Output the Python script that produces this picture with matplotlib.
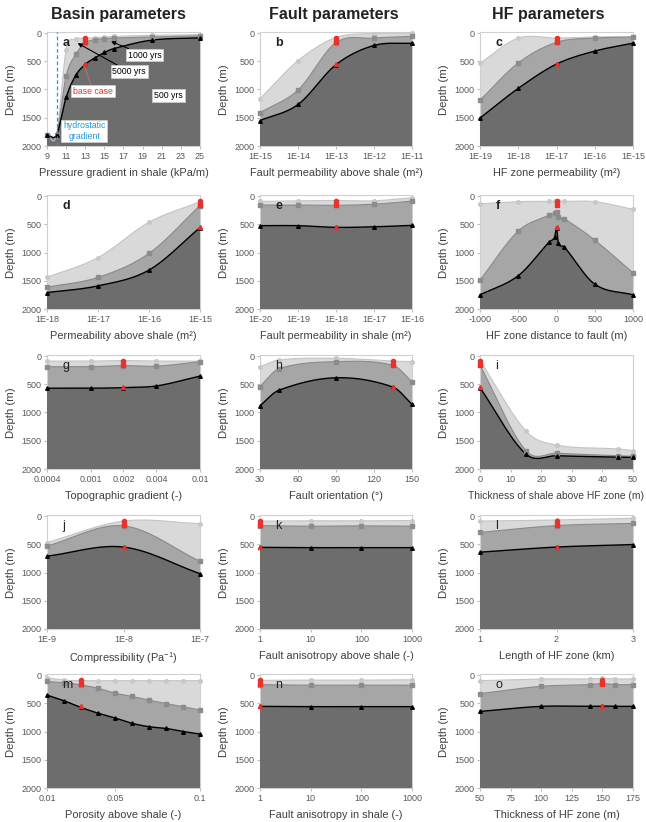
import numpy as np
import matplotlib
matplotlib.use('Agg')
import matplotlib.pyplot as plt

plt.rcParams['font.family'] = ['Liberation Sans', 'DejaVu Sans']
plt.rcParams['mathtext.default'] = 'regular'
plt.rcParams['axes.unicode_minus'] = False

# depth (m) reached after 500, 1000 and 5000 years, per sensitivity panel
a_x = [9, 10, 11, 12, 13, 14, 15, 16, 20, 25]
a_500 = [1800, 1800, 1140, 750, 555, 440, 345, 275, 125, 85]
a_1000 = [1800, 1800, 760, 380, 170, 120, 100, 90, 70, 50]
a_5000 = [1800, 1800, 300, 110, 95, 80, 70, 60, 40, 30]

b_x = [1e-15, 1e-14, 1e-13, 1e-12, 1e-11]
b_500 = [1550, 1265, 560, 220, 180]
b_1000 = [1410, 1010, 170, 90, 60]
b_5000 = [1165, 490, 80, 10, 5]

c_x = [1e-19, 1e-18, 1e-17, 1e-16, 1e-15]
c_500 = [1505, 980, 550, 320, 180]
c_1000 = [1190, 530, 165, 90, 70]
c_5000 = [535, 90, 90, 70, 70]

d_x = [1e-18, 1e-17, 1e-16, 1e-15]
d_500 = [1710, 1590, 1310, 560]
d_1000 = [1615, 1440, 1015, 170]
d_5000 = [1440, 1090, 465, 100]

e_x = [1e-20, 1e-19, 1e-18, 1e-17, 1e-16]
e_500 = [525, 525, 555, 545, 520]
e_1000 = [160, 160, 165, 145, 90]
e_5000 = [95, 85, 80, 85, 30]

f_x = [-1000, -500, -100, -25, 0, 25, 100, 500, 1000]
f_500 = [1750, 1410, 820, 730, 560, 840, 900, 1560, 1750]
f_1000 = [1490, 620, 340, 300, 280, 370, 400, 780, 1360]
f_5000 = [140, 100, 95, 95, 95, 95, 95, 100, 235]

g_x = [0.0004, 0.001, 0.002, 0.004, 0.01]
g_500 = [570, 570, 560, 530, 355]
g_1000 = [190, 190, 170, 180, 100]
g_5000 = [90, 90, 80, 90, 90]

h_x = [30, 45, 90, 135, 150]
h_500 = [880, 605, 385, 550, 855]
h_1000 = [540, 225, 100, 165, 455]
h_5000 = [190, 70, 40, 90, 100]

i_x = [0, 15, 25, 45, 50]
i_500 = [560, 1735, 1765, 1790, 1795]
i_1000 = [165, 1675, 1720, 1765, 1775]
i_5000 = [80, 1325, 1575, 1645, 1675]

j_x = [1e-9, 1e-8, 1e-7]
j_500 = [710, 550, 1020]
j_1000 = [530, 175, 800]
j_5000 = [470, 90, 135]

k_x = [1, 10, 100, 1000]
k_500 = [555, 560, 560, 560]
k_1000 = [170, 180, 175, 180]
k_5000 = [90, 85, 85, 80]

l_x = [1, 2, 3]
l_500 = [640, 550, 505]
l_1000 = [290, 170, 130]
l_5000 = [90, 70, 40]

m_x = [0.01, 0.02, 0.03, 0.04, 0.05, 0.06, 0.07, 0.08, 0.09, 0.1]
m_500 = [355, 455, 575, 675, 760, 855, 915, 945, 1000, 1045]
m_1000 = [115, 135, 175, 235, 320, 380, 445, 505, 560, 620]
m_5000 = [50, 90, 100, 100, 100, 100, 100, 100, 100, 100]

n_x = [1, 10, 100, 1000]
n_500 = [555, 560, 560, 560]
n_1000 = [170, 180, 180, 180]
n_5000 = [95, 90, 90, 85]

o_x = [50, 100, 140, 150, 160, 175]
o_500 = [645, 555, 555, 550, 555, 555]
o_1000 = [330, 200, 170, 150, 170, 170]
o_5000 = [100, 70, 70, 60, 70, 70]

# base case depths (5000, 1000, 500 yrs)
base_depth = [90, 165, 555]

titles = ['Basin parameters', 'Fault parameters', 'HF parameters']

DARK = '#6d6d6d'
MID = '#a6a6a6'
LIGHT = '#d9d9d9'
RED = '#e8322b'
BLUE = '#1f9bd7'


def smooth(x, y, n=40):
    # excel-like smoothed line (cubic hermite with centred slopes)
    x = np.asarray(x, float)
    y = np.asarray(y, float)
    k = len(x)
    s = np.empty(k)
    s[0] = (y[1] - y[0]) / (x[1] - x[0])
    s[-1] = (y[-1] - y[-2]) / (x[-1] - x[-2])
    for q in range(1, k - 1):
        s[q] = (y[q + 1] - y[q - 1]) / (x[q + 1] - x[q - 1])
    t = np.linspace(0, 1, n, endpoint=False)
    h00 = 2 * t**3 - 3 * t**2 + 1
    h10 = t**3 - 2 * t**2 + t
    h01 = -2 * t**3 + 3 * t**2
    h11 = t**3 - t**2
    xs, ys = [], []
    for q in range(k - 1):
        hh = x[q + 1] - x[q]
        xs.append(x[q] + t * hh)
        ys.append(h00 * y[q] + h10 * hh * s[q] + h01 * y[q + 1] + h11 * hh * s[q + 1])
    xs.append([x[-1]])
    ys.append([y[-1]])
    return np.concatenate(xs), np.concatenate(ys)


panels = [
    dict(x=a_x, d=(a_5000, a_1000, a_500), log=False, base=13, letter='a', bold=True,
         ticks=[9, 11, 13, 15, 17, 19, 21, 23, 25], tl=None,
         xlabel='Pressure gradient in shale (kPa/m)'),
    dict(x=b_x, d=(b_5000, b_1000, b_500), log=True, base=1e-13, letter='b', bold=True,
         ticks=b_x, tl=['1E-15', '1E-14', '1E-13', '1E-12', '1E-11'],
         xlabel='Fault permeability above shale (m²)'),
    dict(x=c_x, d=(c_5000, c_1000, c_500), log=True, base=1e-17, letter='c', bold=True,
         ticks=c_x, tl=['1E-19', '1E-18', '1E-17', '1E-16', '1E-15'],
         xlabel='HF zone permeability (m²)'),
    dict(x=d_x, d=(d_5000, d_1000, d_500), log=True, base=1e-15, letter='d', bold=True,
         ticks=d_x, tl=['1E-18', '1E-17', '1E-16', '1E-15'],
         xlabel='Permeability above shale (m²)'),
    dict(x=e_x, d=(e_5000, e_1000, e_500), log=True, base=1e-18, letter='e', bold=True,
         ticks=e_x, tl=['1E-20', '1E-19', '1E-18', '1E-17', '1E-16'],
         xlabel='Fault permeability in shale (m²)'),
    dict(x=f_x, d=(f_5000, f_1000, f_500), log=False, base=0, letter='f', bold=True,
         ticks=[-1000, -500, 0, 500, 1000], tl=None,
         xlabel='HF zone distance to fault (m)'),
    dict(x=g_x, d=(g_5000, g_1000, g_500), log=True, base=0.002, letter='g', bold=False,
         ticks=g_x, tl=['0.0004', '0.001', '0.002', '0.004', '0.01'],
         xlabel='Topographic gradient (-)'),
    dict(x=h_x, d=(h_5000, h_1000, h_500), log=False, base=135, letter='h', bold=False,
         ticks=[30, 60, 90, 120, 150], tl=None,
         xlabel='Fault orientation (°)'),
    dict(x=i_x, d=(i_5000, i_1000, i_500), log=False, base=0, letter='i', bold=False,
         ticks=[0, 10, 20, 30, 40, 50], tl=None,
         xlabel='Thickness of shale above HF zone (m)'),
    dict(x=j_x, d=(j_5000, j_1000, j_500), log=True, base=1e-8, letter='j', bold=False,
         ticks=j_x, tl=['1E-9', '1E-8', '1E-7'],
         xlabel='Compressibility (Pa$^{-1}$)'),
    dict(x=k_x, d=(k_5000, k_1000, k_500), log=True, base=1, letter='k', bold=False,
         ticks=k_x, tl=['1', '10', '100', '1000'],
         xlabel='Fault anisotropy above shale (-)'),
    dict(x=l_x, d=(l_5000, l_1000, l_500), log=False, base=2, letter='l', bold=False,
         ticks=[1, 2, 3], tl=None,
         xlabel='Length of HF zone (km)'),
    dict(x=m_x, d=(m_5000, m_1000, m_500), log=False, base=0.03, letter='m', bold=False,
         ticks=[0.01, 0.05, 0.1], tl=['0.01', '0.05', '0.1'],
         xlabel='Porosity above shale (-)'),
    dict(x=n_x, d=(n_5000, n_1000, n_500), log=True, base=1, letter='n', bold=False,
         ticks=n_x, tl=['1', '10', '100', '1000'],
         xlabel='Fault anisotropy in shale (-)'),
    dict(x=o_x, d=(o_5000, o_1000, o_500), log=False, base=150, letter='o', bold=False,
         ticks=[50, 75, 100, 125, 150, 175], tl=None,
         xlabel='Thickness of HF zone (m)'),
]

W, H = 646, 822
fig = plt.figure(figsize=(W / 100, H / 100), dpi=100)

col_left = [47, 260, 480]
col_w = [153, 152, 153]
row_top = [33, 196, 356, 516, 675]
ph = 113  # pixels for 2000 m

styles = [  # fill, line colour, marker, marker size, marker colour
    (LIGHT, '#c4c4c4', 'o', 2.6, '#c8c8c8'),
    (MID, '#8a8a8a', 's', 2.6, '#8c8c8c'),
    (DARK, 'black', '^', 2.6, 'black'),
]

axes = []
for idx, p in enumerate(panels):
    r, c = divmod(idx, 3)
    top = row_top[r] - ph * 10 / 2000
    hgt = ph * 2010 / 2000
    ax = fig.add_axes([col_left[c] / W, 1 - (top + hgt) / H, col_w[c] / W, hgt / H])
    axes.append(ax)
    x = np.asarray(p['x'], float)
    if p['log']:
        ax.set_xscale('log')
    tx = np.log10(x) if p['log'] else x
    for z, (vals, st) in enumerate(zip(p['d'], styles)):
        sx, sy = smooth(tx, vals)
        if p['log']:
            sx = 10 ** sx
        ax.fill(np.r_[sx[0], sx, sx[-1]], np.r_[2100, sy, 2100], color=st[0], lw=0, zorder=1 + z)
        ax.plot(sx, sy, color=st[1], lw=1.0 if z == 2 else 0.8, zorder=4 + z)
        ax.plot(x, vals, ls='none', marker=st[2], ms=st[3], color=st[4], zorder=7 + z, clip_on=False)
    for bd, mk in zip(base_depth, ['o', 's', '^']):
        ax.plot([p['base']], [bd], ls='none', marker=mk, ms=3.0, color=RED, zorder=11, clip_on=False)

    ax.set_xlim(x[0], x[-1])
    ax.set_ylim(2000, -10)
    ax.set_yticks([0, 500, 1000, 1500, 2000])
    ax.set_xticks(p['ticks'])
    if p['tl'] is not None:
        ax.set_xticklabels(p['tl'])
    ax.minorticks_off()
    for sp in ax.spines.values():
        sp.set_color('#d0d0d0')
        sp.set_linewidth(0.8)
    ax.tick_params(length=2, color='#bfbfbf', labelsize=6.5, labelcolor='#595959', pad=2)
    fs = 7.4 if p['letter'] == 'i' else 7.9
    ax.set_xlabel(p['xlabel'], fontsize=fs, color='#404040', labelpad=5)
    ax.set_ylabel('Depth (m)', fontsize=8.2, color='#404040', labelpad=4)
    ax.text(0.1, 0.88, p['letter'], transform=ax.transAxes, fontsize=9,
            fontweight='bold' if p['bold'] else 'normal', color='#222222', zorder=12)

for c, t in enumerate(titles):
    fig.text([118, 334, 548][c] / W, 1 - 14 / H, t, ha='center', va='center',
             fontsize=11.5, fontweight='bold', color='#222222')

# annotations on panel a
ax = axes[0]
box = dict(boxstyle='square,pad=0.2', fc='white', ec='#d0d0d0', lw=0.5)
ax.axvline(10, color=BLUE, ls=(0, (3, 2)), lw=0.9, zorder=12)
ax.text(12.9, 1735, 'hydrostatic\ngradient', color=BLUE, fontsize=6.3, ha='center',
        va='center', bbox=box, zorder=13)
ax.annotate('1000 yrs', xy=(15.7, 150), xytext=(19.2, 390), fontsize=6.3, ha='center',
            va='center', bbox=box, zorder=13,
            arrowprops=dict(arrowstyle='-|>', color='black', lw=0.8, mutation_scale=6,
                            shrinkA=0, shrinkB=0))
ax.annotate('5000 yrs', xy=(12.2, 180), xytext=(17.6, 685), fontsize=6.3, ha='center',
            va='center', bbox=box, zorder=13,
            arrowprops=dict(arrowstyle='-|>', color='black', lw=0.8, mutation_scale=6,
                            shrinkA=0, shrinkB=0))
ax.annotate('base case', xy=(13, 620), xytext=(13.8, 1030), fontsize=6.3, ha='center',
            va='center', color=RED, bbox=box, zorder=13,
            arrowprops=dict(arrowstyle='-', color='#c07070', lw=0.7, shrinkA=0, shrinkB=0))
ax.text(21.7, 1105, '500 yrs', fontsize=6.3, ha='center', va='center', bbox=box, zorder=13)

fig.savefig('out.png', dpi=100)
